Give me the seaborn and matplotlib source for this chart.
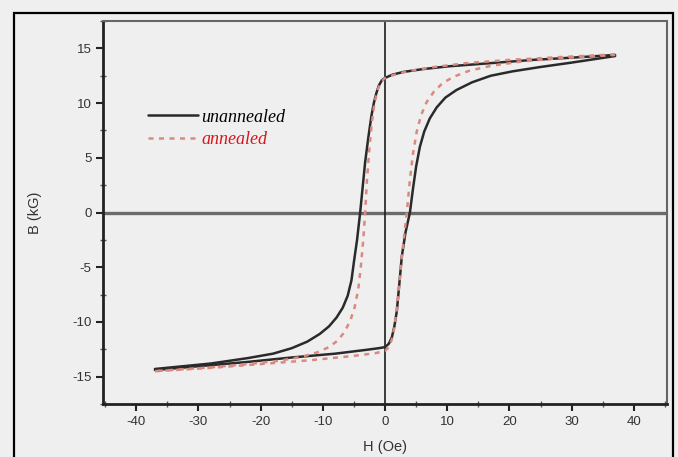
import numpy as np
import pandas as pd
import matplotlib
matplotlib.use("Agg")
import matplotlib.pyplot as plt
from matplotlib.patches import Rectangle
from matplotlib.ticker import MultipleLocator
import seaborn as sns

# Hysteresis loops (H in Oe, B in kG)
# unannealed, descending branch
un_down_H = [37, 30, 23.8, 15.8, 10, 6, 3, 1.2, 0, -0.5, -1.0, -1.4, -1.8, -2.2, -2.7, -3.2, -3.6, -4.0, -4.5,
             -5.0, -5.4, -6.0, -6.8, -7.8, -9.0, -10.5, -12.5, -15, -18, -22, -28, -37]
un_down_B = [14.4, 14.15, 13.95, 13.6, 13.35, 13.1, 12.85, 12.6, 12.3, 12.1, 11.6, 10.9, 10.0, 8.8, 6.8, 4.6, 2.3, 0.0, -2.5,
             -4.5, -6.2, -7.6, -8.7, -9.6, -10.4, -11.1, -11.8, -12.4, -12.9, -13.3, -13.8, -14.3]
# unannealed, ascending branch
un_up_H = [-37, -30, -22, -15, -8, -3, -1, 0, 0.6, 1.1, 1.5, 1.9, 2.3, 2.7, 3.3, 4.0, 4.5, 5.0, 5.6, 6.3,
           7.2, 8.3, 9.7, 11.5, 14, 17, 20.5, 25, 30, 37]
un_up_B = [-14.4, -14.05, -13.65, -13.25, -12.9, -12.55, -12.4, -12.3, -12.0, -11.4, -10.4, -9.0, -6.5, -4.0, -1.8, 0.0, 2.2, 4.2, 6.0, 7.4,
           8.6, 9.6, 10.5, 11.2, 11.9, 12.5, 12.9, 13.3, 13.7, 14.3]
# annealed, descending branch
an_down_H = [37, 28, 20, 13, 8, 4, 1.5, 0, -0.7, -1.2, -1.7, -2.1, -2.5, -2.9, -3.2, -3.5, -3.9, -4.3, -4.9,
             -5.6, -6.5, -7.6, -9.0, -11, -13.5, -17, -22, -28, -37]
an_down_B = [14.45, 14.2, 13.95, 13.65, 13.3, 12.95, 12.6, 12.3, 11.9, 11.2, 10.0, 8.3, 6.0, 3.0, 0.0, -2.5, -5.0, -7.0, -8.7,
             -9.9, -10.9, -11.7, -12.3, -12.8, -13.2, -13.55, -13.85, -14.15, -14.5]
# annealed, ascending branch
an_up_H = [-37, -28, -20, -12, -5, -1.5, 0, 0.6, 1.1, 1.5, 1.9, 2.3, 2.8, 3.5, 4.0, 4.5, 5.1, 5.8, 6.7,
           7.8, 9.2, 11, 13.5, 17, 22, 28, 37]
an_up_B = [-14.5, -14.2, -13.85, -13.5, -13.1, -12.85, -12.65, -12.3, -11.6, -10.5, -8.8, -6.5, -3.5, 0.0, 3.0, 5.4, 7.4, 8.9, 10.1,
           11.0, 11.8, 12.4, 12.95, 13.4, 13.8, 14.1, 14.4]

x_ticks = [-40, -30, -20, -10, 0, 10, 20, 30, 40]
y_ticks = [-15, -10, -5, 0, 5, 10, 15]

bg = "#efefef"
sns.set_style("ticks")
plt.rcParams["font.family"] = ["Liberation Sans", "DejaVu Sans"]
plt.rcParams["axes.unicode_minus"] = False

fig = plt.figure(figsize=(6.78, 4.57), dpi=100, facecolor=bg)
ax = fig.add_axes([0.1524, 0.116, 0.831, 0.838])
ax.set_facecolor(bg)

# frame around the whole figure
fig.patches.append(Rectangle((0.0206, -0.1), 0.972, 1.0716, transform=fig.transFigure,
                             fill=False, edgecolor="black", linewidth=1.6))

ax.axhline(0, color="#6b6b6b", lw=2.4, zorder=1)
ax.axvline(0, color="#1e1e1e", lw=1.2, zorder=1)

solid_kw = dict(color="#2a2a2a", lw=1.8, sort=False, estimator=None, zorder=3)
dash_kw = dict(color="#d98a80", lw=1.8, sort=False, estimator=None, zorder=4,
               dashes=(2.0, 2.2))

sns.lineplot(x=un_down_H, y=un_down_B, ax=ax, **solid_kw, label="unannealed")
sns.lineplot(x=un_up_H, y=un_up_B, ax=ax, **solid_kw)
sns.lineplot(x=an_down_H, y=an_down_B, ax=ax, **dash_kw, label="annealed")
sns.lineplot(x=an_up_H, y=an_up_B, ax=ax, **dash_kw)

ax.set_xlim(-45.3, 45.3)
ax.set_ylim(-17.5, 17.5)
ax.set_xticks(x_ticks)
ax.set_yticks(y_ticks)
ax.xaxis.set_minor_locator(MultipleLocator(5))
ax.yaxis.set_minor_locator(MultipleLocator(2.5))
ax.tick_params(which="major", direction="out", length=5, width=1.5, colors="#222",
               labelsize=9.5, labelcolor="#333")
ax.tick_params(which="minor", direction="inout", length=4, width=1.0, colors="#555")

for side in ["left", "bottom"]:
    ax.spines[side].set_color("#222")
    ax.spines[side].set_linewidth(2.0)
for side in ["top", "right"]:
    ax.spines[side].set_color("#666")
    ax.spines[side].set_linewidth(1.5)

ax.set_xlabel("H (Oe)", fontsize=10.5, color="#333", labelpad=9)
ax.set_ylabel("B (kG)", fontsize=10.5, color="#333", labelpad=22)

leg = ax.legend(loc="upper left", bbox_to_anchor=(0.063, 0.795), frameon=False,
                handlelength=2.75, handletextpad=0.22, labelspacing=0.3, borderpad=0,
                prop={"family": "Liberation Serif", "style": "italic", "size": 13})
leg.get_texts()[0].set_color("black")
leg.get_texts()[1].set_color("#d8141c")

fig.savefig("out.png", dpi=100, facecolor=bg)
